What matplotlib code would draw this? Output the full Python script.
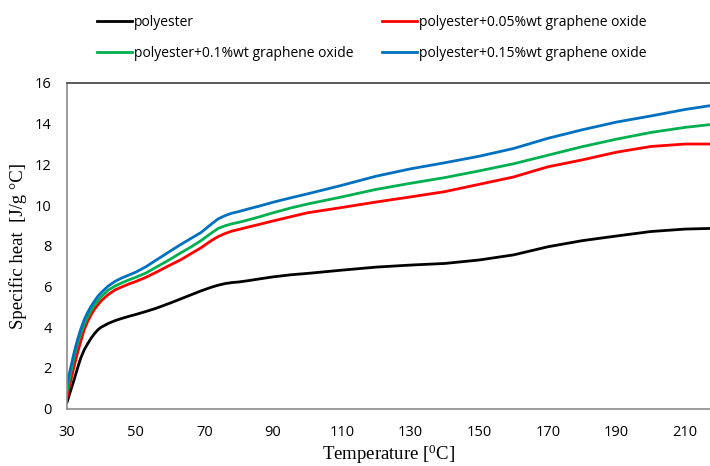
import matplotlib
matplotlib.use("Agg")
import matplotlib.pyplot as plt

temperature = [30, 31, 32, 33, 34, 35, 36, 37, 38, 39, 40, 42, 44, 46, 48, 50, 53, 56, 60, 63,
               66, 69, 72, 74, 76, 78, 80, 83, 86, 90, 95, 100, 110, 120, 130, 140, 150, 160,
               170, 180, 190, 200, 210, 217]

polyester = [0.3, 0.85, 1.38, 1.95, 2.48, 2.88, 3.18, 3.45, 3.68, 3.87, 4.0, 4.18, 4.32, 4.43,
             4.53, 4.62, 4.77, 4.93, 5.18, 5.38, 5.58, 5.78, 5.96, 6.06, 6.14, 6.19, 6.22, 6.29,
             6.37, 6.47, 6.57, 6.64, 6.8, 6.95, 7.05, 7.13, 7.3, 7.55, 7.95, 8.25, 8.48, 8.7,
             8.82, 8.85]
go_005 = [0.55, 1.3, 2.03, 2.7, 3.3, 3.87, 4.27, 4.6, 4.88, 5.1, 5.3, 5.6, 5.83, 5.98, 6.12,
          6.24, 6.45, 6.7, 7.05, 7.3, 7.6, 7.9, 8.25, 8.45, 8.6, 8.72, 8.8, 8.93, 9.05, 9.22,
          9.42, 9.62, 9.88, 10.15, 10.4, 10.66, 11.02, 11.38, 11.88, 12.22, 12.6, 12.88,
          13.0, 13.0]
go_010 = [0.85, 1.7, 2.5, 3.15, 3.7, 4.13, 4.5, 4.82, 5.08, 5.3, 5.5, 5.82, 6.02, 6.18, 6.32,
          6.45, 6.66, 6.95, 7.33, 7.64, 7.93, 8.25, 8.62, 8.85, 8.98, 9.08, 9.15, 9.28, 9.42,
          9.62, 9.85, 10.05, 10.4, 10.77, 11.07, 11.35, 11.68, 12.03, 12.45, 12.87, 13.24,
          13.57, 13.82, 13.95]
go_015 = [1.2, 1.95, 2.7, 3.35, 3.9, 4.36, 4.72, 5.02, 5.28, 5.52, 5.7, 6.02, 6.25, 6.42, 6.56,
          6.7, 6.97, 7.3, 7.73, 8.05, 8.35, 8.65, 9.06, 9.32, 9.48, 9.6, 9.68, 9.82, 9.95,
          10.14, 10.35, 10.55, 10.97, 11.42, 11.78, 12.08, 12.4, 12.78, 13.28, 13.7, 14.08,
          14.38, 14.7, 14.88]

labels = ["polyester", "polyester+0.05%wt graphene oxide",
          "polyester+0.1%wt graphene oxide", "polyester+0.15%wt graphene oxide"]
xticks = [30, 50, 70, 90, 110, 130, 150, 170, 190, 210]
yticks = [0, 2, 4, 6, 8, 10, 12, 14, 16]

sans = ["Open Sans", "DejaVu Sans"]
serif = ["Liberation Serif", "DejaVu Serif"]

fig = plt.figure(figsize=(7.10, 4.66), dpi=100)
ax = fig.add_axes([67 / 710, 1 - 408.5 / 466, 1 - 67 / 710, (408.5 - 83) / 466])

lw = 2.0
l0, = ax.plot(temperature, polyester, color="#000000", lw=lw)
l1, = ax.plot(temperature, go_005, color="#FF0000", lw=lw)
l2, = ax.plot(temperature, go_010, color="#00B050", lw=lw)
l3, = ax.plot(temperature, go_015, color="#0070C0", lw=lw)

ax.set_xlim(30, 217.2)
ax.set_ylim(0, 16)
ax.set_xticks(xticks)
ax.set_yticks(yticks)
ax.tick_params(length=0, labelsize=10.5, colors="#000000")
ax.tick_params(axis="y", pad=11)
ax.tick_params(axis="x", pad=12)
for lab in ax.get_xticklabels() + ax.get_yticklabels():
    lab.set_family(sans)

ax.spines["right"].set_visible(False)
ax.spines["left"].set_color("#8c8c8c")
ax.spines["bottom"].set_color("#8c8c8c")
ax.spines["top"].set_color("#404040")
for s in ["left", "bottom", "top"]:
    ax.spines[s].set_linewidth(1.2)

ax.set_xlabel("Temperature [$\\mathregular{^0}$C]", family=serif, fontsize=13.5, labelpad=1.5)
ax.set_ylabel("Specific heat  [J/g °C]", family=serif, fontsize=13.5, labelpad=6)

fig.legend([l0, l2, l1, l3], [labels[0], labels[2], labels[1], labels[3]],
           loc="upper left", bbox_to_anchor=(97 / 710, 1 - 15 / 466), ncol=2,
           frameon=False, prop={"family": sans, "size": 10},
           handlelength=2.5, handletextpad=0.15, columnspacing=2.05,
           labelspacing=1.15, borderpad=0, borderaxespad=0)

fig.savefig("out.png", dpi=100)
